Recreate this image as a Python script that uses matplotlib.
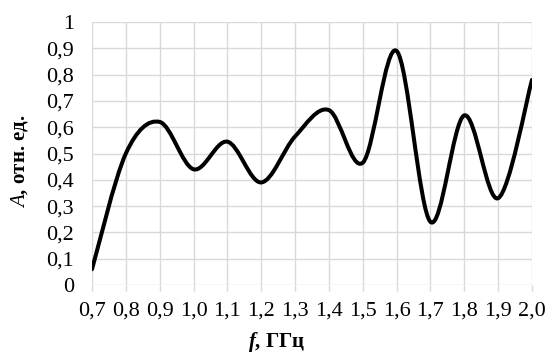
import numpy as np
from matplotlib import pyplot as plt
from matplotlib.path import Path
from matplotlib.patches import PathPatch

plt.rcParams['font.family'] = ['Liberation Serif', 'DejaVu Serif']
plt.rcParams['mathtext.fontset'] = 'custom'
plt.rcParams['mathtext.it'] = 'Liberation Serif:italic'
plt.rcParams['mathtext.bfit'] = 'Liberation Serif:italic:bold'
plt.rcParams['mathtext.rm'] = 'Liberation Serif'

# data
freq = [0.7, 0.8, 0.9, 1.0, 1.1, 1.2, 1.3, 1.4, 1.5, 1.6, 1.7, 1.8, 1.9, 2.0]
amp = [0.06, 0.50, 0.62, 0.44, 0.545, 0.39, 0.565, 0.665, 0.465, 0.89, 0.24, 0.645, 0.33, 0.78]
x_ticks = [0.7, 0.8, 0.9, 1.0, 1.1, 1.2, 1.3, 1.4, 1.5, 1.6, 1.7, 1.8, 1.9, 2.0]
y_ticks = [0, 0.1, 0.2, 0.3, 0.4, 0.5, 0.6, 0.7, 0.8, 0.9, 1.0]

fig = plt.figure(figsize=(5.45, 3.53), dpi=100)
ax = fig.add_axes([92 / 545, 1 - 285 / 353, 440 / 545, 263 / 353])

# smoothed line like excel (bezier through the points)
pts = np.column_stack([freq, amp])
n = len(pts)
verts = [pts[0]]
codes = [Path.MOVETO]
for i in range(n - 1):
    p0 = pts[max(i - 1, 0)]
    p1 = pts[i]
    p2 = pts[i + 1]
    p3 = pts[min(i + 2, n - 1)]
    verts += [p1 + (p2 - p0) / 6, p2 - (p3 - p1) / 6, p2]
    codes += [Path.CURVE4] * 3
patch = PathPatch(Path(verts, codes), fill=False, lw=2.9, edgecolor='black',
                  capstyle='round', joinstyle='round', zorder=3)
ax.add_patch(patch)

ax.set_xlim(0.7, 2.0)
ax.set_ylim(0, 1)
ax.set_xticks(x_ticks)
ax.set_yticks(y_ticks)
ax.set_xticklabels([f'{v:.1f}'.replace('.', ',') for v in x_ticks])
ax.set_yticklabels(['0' if v == 0 else ('1' if v == 1 else f'{v:.1f}'.replace('.', ','))
                    for v in y_ticks])
ax.grid(True, color='#d9d9d9', lw=1)
for s in ax.spines.values():
    s.set_visible(False)
ax.tick_params(axis='x', length=4, color='#d9d9d9', width=1, pad=8, labelsize=16)
ax.tick_params(axis='y', length=0, pad=13, labelsize=16)

fig.text(277 / 545, 1 - 342 / 353, r'$\mathbfit{f}$, ГГц', ha='center', va='center',
         fontsize=15, fontweight='bold')
fig.text(20 / 545, 1 - 161 / 353, r'$\mathit{A}$, отн. ед.', ha='center', va='center',
         rotation=90, fontsize=15, fontweight='bold')

fig.savefig('out.png', dpi=100)
